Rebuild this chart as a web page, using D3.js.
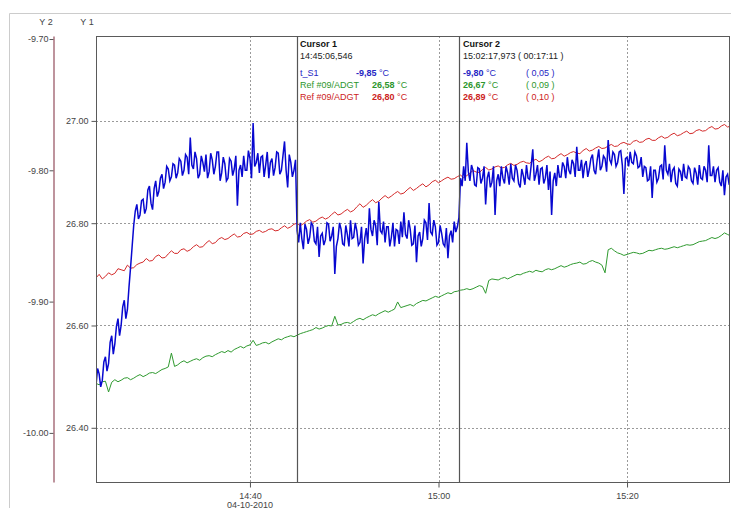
<!DOCTYPE html>
<html>
<head>
<meta charset="utf-8">
<script src="https://cdn.jsdelivr.net/npm/d3@7"></script>
<style>
  body { margin: 0; background: #fff; }
  svg { display: block; font-family: "Liberation Sans", Arial, sans-serif; }
</style>
</head>
<body>
<div class="visHolder"></div>
<script>
var width = 731,
  height = 508;

// plot frame
var plotLeft = 96, plotRight = 729, plotTop = 36, plotBottom = 482;

// logging starts 14:23:40 on 04-10-2010
var startTime = new Date(2010, 9, 4, 14, 23, 40);
var endTime = new Date(2010, 9, 4, 15, 30, 49);
var blueStepSec = 20;
var refStepSec = 40;

// t_S1 (Y2 axis), samples on the step and half a step later
var blueValues = [
  -9.964, -9.955, -9.960, -9.942, -9.947, -9.926, -9.932, -9.913, -9.918, -9.899,
  -9.906, -9.874, -9.842, -9.826, -9.834, -9.822, -9.829, -9.812, -9.830, -9.808,
  -9.816, -9.803, -9.809, -9.799, -9.805, -9.796, -9.802, -9.793, -9.800, -9.790,
  -9.775, -9.799, -9.791, -9.803, -9.794, -9.788, -9.801, -9.792, -9.797, -9.786,
  -9.802, -9.795, -9.806, -9.793, -9.799, -9.827, -9.796, -9.789, -9.800, -9.791,
  -9.764, -9.794, -9.802, -9.789, -9.796, -9.806, -9.791, -9.798, -9.787, -9.800,
  -9.778, -9.813, -9.794, -9.800, -9.846, -9.840, -9.860, -9.845, -9.851, -9.842,
  -9.856, -9.866, -9.848, -9.853, -9.841, -9.850, -9.879, -9.852, -9.845, -9.857,
  -9.849, -9.838, -9.851, -9.846, -9.855, -9.871, -9.844, -9.829, -9.850, -9.842,
  -9.824, -9.848, -9.855, -9.843, -9.851, -9.858, -9.846, -9.839, -9.832, -9.852,
  -9.845, -9.856, -9.870, -9.847, -9.852, -9.840, -9.825, -9.849, -9.843, -9.855,
  -9.848, -9.858, -9.867, -9.846, -9.839, -9.843, -9.806, -9.797, -9.779, -9.808,
  -9.800, -9.812, -9.799, -9.806, -9.826, -9.801, -9.809, -9.834, -9.803, -9.797,
  -9.810, -9.802, -9.795, -9.808, -9.800, -9.813, -9.804, -9.796, -9.807, -9.784,
  -9.803, -9.811, -9.798, -9.806, -9.815, -9.834, -9.802, -9.796, -9.805, -9.797,
  -9.790, -9.803, -9.795, -9.782, -9.800, -9.806, -9.793, -9.799, -9.788, -9.803,
  -9.784, -9.797, -9.791, -9.777, -9.795, -9.788, -9.794, -9.785, -9.818, -9.790,
  -9.786, -9.795, -9.789, -9.797, -9.805, -9.798, -9.807, -9.821, -9.800, -9.806,
  -9.796, -9.781, -9.803, -9.809, -9.798, -9.812, -9.801, -9.795, -9.806, -9.799,
  -9.810, -9.802, -9.796, -9.807, -9.800, -9.781, -9.804, -9.809, -9.798, -9.812,
  -9.819, -9.803, -9.806
];
var blueValuesHalf = [
  -9.951, -9.965, -9.946, -9.953, -9.931, -9.940, -9.919, -9.926, -9.904, -9.913,
  -9.889, -9.858, -9.831, -9.837, -9.823, -9.833, -9.815, -9.825, -9.814, -9.820,
  -9.806, -9.814, -9.797, -9.808, -9.795, -9.806, -9.791, -9.804, -9.788, -9.803,
  -9.796, -9.786, -9.806, -9.789, -9.801, -9.806, -9.787, -9.803, -9.786, -9.808,
  -9.790, -9.808, -9.791, -9.804, -9.789, -9.800, -9.805, -9.800, -9.785, -9.806,
  -9.797, -9.787, -9.790, -9.805, -9.786, -9.794, -9.804, -9.786, -9.803, -9.789,
  -9.800, -9.788, -9.805, -9.792, -9.855, -9.852, -9.841, -9.856, -9.840, -9.854,
  -9.843, -9.850, -9.857, -9.840, -9.854, -9.843, -9.858, -9.840, -9.856, -9.842,
  -9.858, -9.852, -9.840, -9.857, -9.843, -9.852, -9.856, -9.845, -9.838, -9.857,
  -9.846, -9.839, -9.843, -9.858, -9.840, -9.845, -9.856, -9.851, -9.849, -9.838,
  -9.857, -9.842, -9.850, -9.858, -9.838, -9.853, -9.847, -9.838, -9.857, -9.842,
  -9.856, -9.844, -9.850, -9.855, -9.847, -9.836, -9.812, -9.808, -9.801, -9.796,
  -9.811, -9.798, -9.810, -9.797, -9.806, -9.813, -9.797, -9.808, -9.812, -9.806,
  -9.797, -9.811, -9.806, -9.796, -9.810, -9.799, -9.811, -9.806, -9.796, -9.808,
  -9.796, -9.799, -9.810, -9.796, -9.801, -9.808, -9.812, -9.805, -9.794, -9.806,
  -9.800, -9.792, -9.805, -9.800, -9.792, -9.796, -9.805, -9.791, -9.800, -9.792,
  -9.800, -9.789, -9.801, -9.792, -9.786, -9.797, -9.786, -9.796, -9.791, -9.797,
  -9.794, -9.786, -9.798, -9.790, -9.797, -9.808, -9.797, -9.800, -9.809, -9.797,
  -9.807, -9.800, -9.795, -9.800, -9.810, -9.799, -9.808, -9.805, -9.797, -9.808,
  -9.798, -9.811, -9.806, -9.797, -9.809, -9.804, -9.797, -9.800, -9.809, -9.800,
  -9.805, -9.811, -9.800
];

// Ref #09/ADGT red (Y1 axis)
var redValues = [
  26.693, 26.691, 26.703, 26.702, 26.709, 26.718, 26.713, 26.722, 26.731, 26.727,
  26.738, 26.733, 26.746, 26.741, 26.750, 26.748, 26.758, 26.754, 26.766, 26.762,
  26.772, 26.770, 26.779, 26.774, 26.782, 26.779, 26.786, 26.784, 26.789, 26.786,
  26.795, 26.793, 26.800, 26.799, 26.807, 26.804, 26.812, 26.811, 26.822, 26.818,
  26.827, 26.825, 26.838, 26.835, 26.846, 26.843, 26.854, 26.853, 26.862, 26.859,
  26.870, 26.868, 26.877, 26.875, 26.884, 26.883, 26.890, 26.887, 26.894, 26.893,
  26.903, 26.899, 26.909, 26.906, 26.912, 26.909, 26.917, 26.915, 26.921, 26.917,
  26.925, 26.923, 26.931, 26.927, 26.936, 26.934, 26.940, 26.936, 26.946, 26.943,
  26.950, 26.947, 26.954, 26.951, 26.958, 26.954, 26.962, 26.959, 26.966, 26.962,
  26.970, 26.968, 26.976, 26.973, 26.980, 26.976, 26.983, 26.981, 26.989, 26.985,
  26.993, 26.990
];
var redValuesHalf = [
  26.700, 26.696, 26.699, 26.711, 26.707, 26.712, 26.719, 26.724, 26.726, 26.735,
  26.732, 26.740, 26.741, 26.748, 26.745, 26.754, 26.753, 26.761, 26.760, 26.769,
  26.768, 26.775, 26.773, 26.780, 26.778, 26.784, 26.782, 26.788, 26.785, 26.791,
  26.790, 26.798, 26.795, 26.804, 26.802, 26.809, 26.808, 26.817, 26.816, 26.823,
  26.822, 26.832, 26.831, 26.841, 26.840, 26.849, 26.849, 26.858, 26.857, 26.865,
  26.864, 26.873, 26.871, 26.881, 26.879, 26.887, 26.886, 26.891, 26.889, 26.898,
  26.900, 26.905, 26.904, 26.910, 26.908, 26.914, 26.913, 26.919, 26.918, 26.922,
  26.920, 26.928, 26.926, 26.932, 26.931, 26.938, 26.937, 26.942, 26.941, 26.947,
  26.946, 26.951, 26.950, 26.956, 26.955, 26.960, 26.958, 26.964, 26.962, 26.967,
  26.966, 26.973, 26.971, 26.977, 26.975, 26.981, 26.980, 26.986, 26.984, 26.990,
  26.988, 26.994
];

// Ref #09/ADGT green (Y1 axis)
var greenValues = [
  26.487, 26.490, 26.470, 26.494, 26.493, 26.498, 26.497, 26.504, 26.503, 26.508,
  26.510, 26.516, 26.546, 26.523, 26.531, 26.530, 26.535, 26.537, 26.541, 26.543,
  26.549, 26.551, 26.553, 26.559, 26.560, 26.571, 26.563, 26.567, 26.568, 26.574,
  26.576, 26.580, 26.581, 26.586, 26.590, 26.596, 26.595, 26.600, 26.618, 26.602,
  26.606, 26.608, 26.614, 26.615, 26.621, 26.623, 26.629, 26.629, 26.646, 26.637,
  26.641, 26.643, 26.649, 26.651, 26.657, 26.658, 26.664, 26.666, 26.669, 26.672,
  26.672, 26.678, 26.663, 26.691, 26.689, 26.694, 26.694, 26.700, 26.702, 26.706,
  26.708, 26.705, 26.711, 26.711, 26.717, 26.716, 26.721, 26.724, 26.721, 26.727,
  26.722, 26.703, 26.751, 26.742, 26.737, 26.741, 26.742, 26.741, 26.747, 26.748,
  26.751, 26.750, 26.754, 26.754, 26.758, 26.758, 26.764, 26.766, 26.772, 26.772,
  26.781, 26.775
];
var greenValuesHalf = [
  26.484, 26.491, 26.489, 26.490, 26.497, 26.494, 26.501, 26.500, 26.507, 26.506,
  26.514, 26.519, 26.520, 26.528, 26.527, 26.533, 26.532, 26.540, 26.539, 26.546,
  26.547, 26.548, 26.556, 26.556, 26.562, 26.561, 26.566, 26.564, 26.571, 26.572,
  26.578, 26.578, 26.584, 26.588, 26.592, 26.593, 26.598, 26.599, 26.601, 26.605,
  26.604, 26.612, 26.611, 26.618, 26.619, 26.626, 26.626, 26.632, 26.635, 26.639,
  26.638, 26.646, 26.648, 26.654, 26.655, 26.661, 26.662, 26.667, 26.670, 26.670,
  26.675, 26.676, 26.688, 26.690, 26.692, 26.691, 26.697, 26.699, 26.704, 26.704,
  26.706, 26.709, 26.709, 26.714, 26.714, 26.719, 26.722, 26.720, 26.725, 26.724,
  26.718, 26.748, 26.746, 26.740, 26.739, 26.743, 26.740, 26.744, 26.746, 26.750,
  26.749, 26.752, 26.752, 26.756, 26.757, 26.761, 26.765, 26.769, 26.770, 26.776,
  26.778, 26.776
];

var y1Ticks = [26.40, 26.60, 26.80, 27.00];
var y2Ticks = [-10.00, -9.90, -9.80, -9.70];
var xTicks = [new Date(2010, 9, 4, 14, 40), new Date(2010, 9, 4, 15, 0), new Date(2010, 9, 4, 15, 20)];
var dateLabel = "04-10-2010";

// cursor readouts
var cursorTimes = [new Date(2010, 9, 4, 14, 45, 6, 546), new Date(2010, 9, 4, 15, 2, 17, 973)];
var cursorTitles = ["Cursor 1", "Cursor 2"];
var cursorStamps = ["14:45:06,546", "15:02:17,973 ( 00:17:11 )"];
var seriesNames = ["t_S1", "Ref #09/ADGT", "Ref #09/ADGT"];
var cursor1Values = ["-9,85", "26,58", "26,80"];
var cursor2Values = ["-9,80", "26,67", "26,89"];
var cursorDiffs = ["( 0,05 )", "( 0,09 )", "( 0,10 )"];

var lineColors = ["#0808d0", "#2f9a2f", "#d42a2a"];
var textColors = ["#2626c4", "#2c962c", "#cc2222"];

var svg = d3.select(".visHolder").append("svg").attr("width", width).attr("height", height);

// outer panel
svg.append("path")
  .attr("d", "M9.5," + height + "V13.5H" + width)
  .attr("fill", "none")
  .attr("stroke", "#cccccc");

var xScale = d3.scaleTime().domain([startTime, endTime]).range([plotLeft, plotRight]);
var y1Scale = d3.scaleLinear().domain([26.294, 27.166]).range([plotBottom, plotTop]);
var y2Scale = d3.scaleLinear().domain([-10.0374, -9.6977]).range([plotBottom, plotTop]);

svg.append("clipPath").attr("id", "plotclip")
  .append("rect").attr("x", plotLeft).attr("y", plotTop)
  .attr("width", plotRight - plotLeft).attr("height", plotBottom - plotTop);

// grid
var grid = svg.append("g").attr("stroke", "#9a9a9a").attr("stroke-dasharray", "2,2");
grid.selectAll(".hgrid").data(y1Ticks).enter().append("line")
  .attr("x1", plotLeft).attr("x2", plotRight)
  .attr("y1", d => Math.round(y1Scale(d)) + 0.5).attr("y2", d => Math.round(y1Scale(d)) + 0.5);
grid.selectAll(".vgrid").data(xTicks).enter().append("line")
  .attr("y1", plotTop).attr("y2", plotBottom)
  .attr("x1", d => Math.round(xScale(d)) + 0.5).attr("x2", d => Math.round(xScale(d)) + 0.5);

// series: sample i at start + i*step, the half sample step/2 later
function samples(values, halfValues, step) {
  var out = [];
  values.forEach(function (v, i) {
    var t = startTime.getTime() + i * step * 1000;
    out.push({ t: new Date(t), v: v });
    out.push({ t: new Date(t + step * 500), v: halfValues[i] });
  });
  return out;
}
var plot = svg.append("g").attr("clip-path", "url(#plotclip)");

var lineY1 = d3.line().x(d => xScale(d.t)).y(d => y1Scale(d.v));
var lineY2 = d3.line().x(d => xScale(d.t)).y(d => y2Scale(d.v));

plot.append("path").datum(samples(greenValues, greenValuesHalf, refStepSec)).attr("d", lineY1)
  .attr("fill", "none").attr("stroke", lineColors[1]).attr("stroke-width", 1);
plot.append("path").datum(samples(redValues, redValuesHalf, refStepSec)).attr("d", lineY1)
  .attr("fill", "none").attr("stroke", lineColors[2]).attr("stroke-width", 1);
plot.append("path").datum(samples(blueValues, blueValuesHalf, blueStepSec)).attr("d", lineY2)
  .attr("fill", "none").attr("stroke", lineColors[0]).attr("stroke-width", 1.5);

// frame
svg.append("rect")
  .attr("x", plotLeft + 0.5).attr("y", plotTop + 0.5)
  .attr("width", plotRight - plotLeft).attr("height", plotBottom - plotTop)
  .attr("fill", "none").attr("stroke", "#5a5a5a");

// cursors
svg.selectAll(".cursor").data(cursorTimes).enter().append("line")
  .attr("class", "cursor")
  .attr("x1", d => Math.round(xScale(d)) - 0.5).attr("x2", d => Math.round(xScale(d)) - 0.5)
  .attr("y1", plotTop).attr("y2", plotBottom)
  .attr("stroke", "#555").attr("stroke-width", 1.2);

// axes
var fmt = d => d.toFixed(2);
var y1Axis = d3.axisLeft(y1Scale).tickValues(y1Ticks).tickFormat(fmt).tickSize(5).tickSizeOuter(0);
var g1 = svg.append("g").attr("transform", "translate(" + (plotLeft + 0.5) + ",0)").call(y1Axis);
g1.select(".domain").remove();

var y2Axis = d3.axisLeft(y2Scale).tickValues(y2Ticks).tickFormat(fmt).tickSize(4).tickSizeOuter(0);
var g2 = svg.append("g").attr("transform", "translate(53.5,0)").call(y2Axis);
g2.select(".domain").attr("stroke", "#a8707c").attr("stroke-width", 1.5);

var xAxis = d3.axisBottom(xScale).tickValues(xTicks).tickFormat(d3.timeFormat("%H:%M")).tickSize(5).tickSizeOuter(0);
var gx = svg.append("g").attr("transform", "translate(0," + (plotBottom + 0.5) + ")").call(xAxis);
gx.select(".domain").remove();
gx.append("text").attr("x", xScale(xTicks[0])).attr("y", 25).attr("fill", "#444")
  .attr("text-anchor", "middle").style("font-size", "9px").text(dateLabel);

[g1, g2, gx].forEach(function (g) {
  g.attr("font-family", null).attr("font-size", null);
  g.selectAll(".tick line").attr("stroke", "#555");
  g.selectAll(".tick text").attr("fill", "#444").style("font-size", "9px");
});
g2.selectAll(".tick text").attr("x", -5);
gx.selectAll(".tick text").attr("dy", "0.95em");

svg.append("text").attr("x", 46).attr("y", 25).attr("text-anchor", "middle")
  .attr("fill", "#444").style("font-size", "9px").text("Y 2");
svg.append("text").attr("x", 87).attr("y", 25).attr("text-anchor", "middle")
  .attr("fill", "#444").style("font-size", "9px").text("Y 1");

// cursor readouts
function readout(x0, title, stamp, values, valueXs, diffs) {
  var g = svg.append("g").style("font-size", "9px");
  g.append("text").attr("x", x0).attr("y", 47).attr("font-weight", "bold").attr("fill", "#111").text(title);
  g.append("text").attr("x", x0).attr("y", 59).attr("fill", "#222").text(stamp);
  values.forEach(function (v, i) {
    var yy = 76 + i * 12;
    if (!diffs) {
      g.append("text").attr("x", x0).attr("y", yy).attr("fill", textColors[i]).text(seriesNames[i]);
    }
    var t = g.append("text").attr("x", valueXs[i]).attr("y", yy).attr("fill", textColors[i]);
    t.append("tspan").attr("font-weight", "bold").text(v);
    t.append("tspan").text(" \u00b0C");
    if (diffs) {
      g.append("text").attr("x", 526).attr("y", yy).attr("fill", textColors[i]).text(diffs[i]);
    }
  });
}
readout(300, cursorTitles[0], cursorStamps[0], cursor1Values, [356, 372, 372], null);
readout(463, cursorTitles[1], cursorStamps[1], cursor2Values, [463, 463, 463], cursorDiffs);
</script>
</body>
</html>
